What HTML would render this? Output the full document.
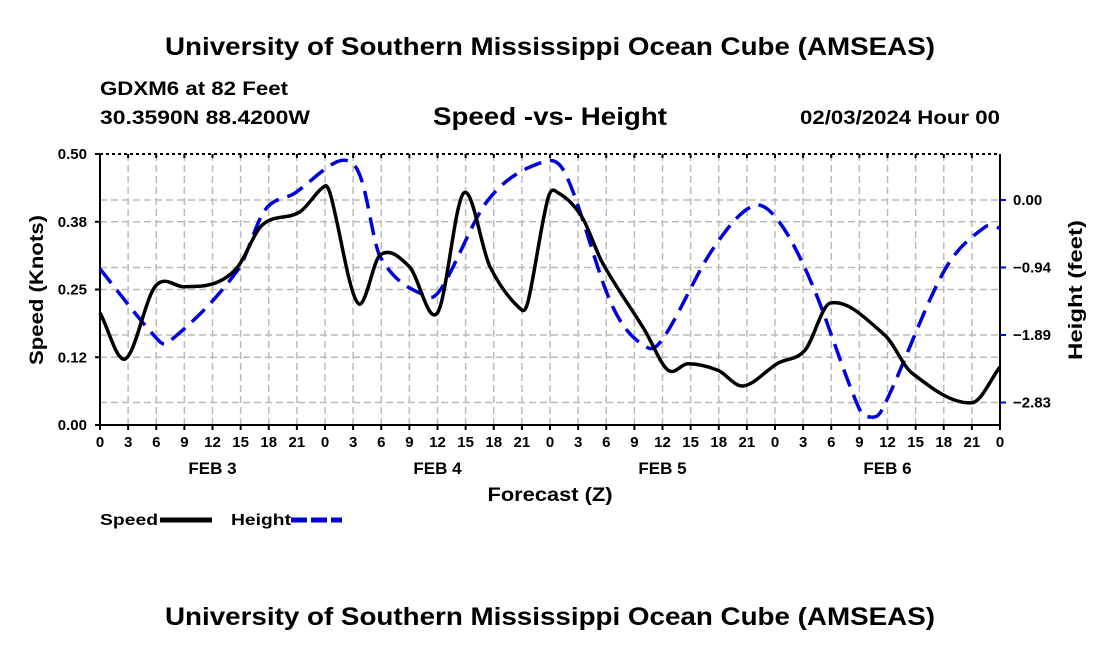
<!DOCTYPE html>
<html><head><meta charset="utf-8"><style>
body{margin:0;background:#fff;width:1100px;height:650px;overflow:hidden}
svg text{font-family:"Liberation Sans",sans-serif;font-weight:bold;fill:#000}
</style></head><body>
<svg id="chart" width="1100" height="650" xmlns="http://www.w3.org/2000/svg">
<text x="550" y="55" font-size="25" text-anchor="middle" textLength="770" lengthAdjust="spacingAndGlyphs">University of Southern Mississippi Ocean Cube (AMSEAS)</text>
<text x="100" y="95" font-size="19" textLength="188" lengthAdjust="spacingAndGlyphs">GDXM6 at 82 Feet</text>
<text x="100" y="124" font-size="19" textLength="210" lengthAdjust="spacingAndGlyphs">30.3590N  88.4200W</text>
<text x="550" y="125" font-size="25" text-anchor="middle" textLength="234" lengthAdjust="spacingAndGlyphs">Speed -vs- Height</text>
<text x="1000" y="124" font-size="19" text-anchor="end" textLength="200" lengthAdjust="spacingAndGlyphs">02/03/2024 Hour 00</text>
<g id="grid"></g><g id="axes"></g><g id="series"></g>
<text x="550" y="501" font-size="19" text-anchor="middle" textLength="125" lengthAdjust="spacingAndGlyphs">Forecast (Z)</text>
<text transform="translate(43,290) rotate(-90)" font-size="19" text-anchor="middle" textLength="150" lengthAdjust="spacingAndGlyphs">Speed (Knots)</text>
<text transform="translate(1082,290) rotate(-90)" font-size="19" text-anchor="middle" textLength="140" lengthAdjust="spacingAndGlyphs">Height (feet)</text>
<g>
<text x="100" y="525" font-size="16" textLength="58" lengthAdjust="spacingAndGlyphs">Speed</text>
<line x1="160" y1="520" x2="212" y2="520" stroke="#000" stroke-width="5"/>
<text x="231" y="525" font-size="16" textLength="60" lengthAdjust="spacingAndGlyphs">Height</text>
<line x1="291" y1="520" x2="342" y2="520" stroke="#0000dd" stroke-width="5" stroke-dasharray="16,4"/>
</g>
<text x="550" y="625" font-size="25" text-anchor="middle" textLength="770" lengthAdjust="spacingAndGlyphs">University of Southern Mississippi Ocean Cube (AMSEAS)</text>
</svg>
<script>
const speedHours=[0,2.7,5.9,9,12.3,14.7,17.3,21.3,24,24.6,27.5,29.9,33,36,38.8,41.6,45,45.7,47.8,48.9,51.4,53.6,58.1,60.6,62.7,65.9,68.6,72.3,75.2,77.9,83.7,86.6,93,96];
const speedValues=[0.207,0.122,0.256,0.255,0.262,0.292,0.369,0.393,0.441,0.424,0.225,0.314,0.292,0.207,0.428,0.292,0.212,0.231,0.419,0.428,0.384,0.299,0.175,0.101,0.113,0.101,0.072,0.114,0.138,0.225,0.166,0.096,0.041,0.107];
const heightHours=[0,5.9,7.2,14.7,17.6,20.8,25,26.9,28,29.9,35,36.5,41.4,47,49.6,54.7,58.5,60.3,65.3,69.6,72.3,75.9,80.9,82.1,83.4,90.1,94.4,96];
const heightValues=[-0.965,-1.916,-2.0,-0.979,-0.14,0.098,0.517,0.517,0.238,-0.797,-1.357,-1.217,0,0.52,0.378,-1.497,-2.07,-1.888,-0.7,-0.084,-0.28,-1.161,-2.895,-3.035,-2.937,-0.979,-0.378,-0.392];
const leftTicks=[0,0.125,0.25,0.375,0.5];
const leftTickLabels=["0.00","0.12","0.25","0.38","0.50"];
const rightTicks=[0,-0.944,-1.888,-2.832];
const rightTickLabels=["0.00","\u22120.94","\u22121.89","\u22122.83"];
const xTickLabels=["0","3","6","9","12","15","18","21","0","3","6","9","12","15","18","21","0","3","6","9","12","15","18","21","0","3","6","9","12","15","18","21","0"];
const dayLabels=["FEB 3","FEB 4","FEB 5","FEB 6"];

const X0=100,X1=1000,Y0=154,Y1=425;
const xs=h=>X0+h*(X1-X0)/96;
const ySpeed=v=>Y1-v*(Y1-Y0)/0.5;
const yHeight=v=>200-v*71.5;
const NS="http://www.w3.org/2000/svg";
function mk(parent,tag,attrs){const e=document.createElementNS(NS,tag);for(const k in attrs)e.setAttribute(k,attrs[k]);document.getElementById(parent).appendChild(e);return e;}
for(let i=1;i<32;i++){const l=mk('grid','line',{x1:xs(i*3),x2:xs(i*3),y1:Y0,y2:Y1,stroke:'#bbb','stroke-width':1.5,'stroke-dasharray':'7,4'});

}
const hy=[...leftTicks.slice(1,4).map(ySpeed),...rightTicks.map(yHeight)];
hy.forEach(y=>{const l=mk('grid','line',{x1:X0,x2:X1,y1:y,y2:y,stroke:'#bbb','stroke-width':1.5,'stroke-dasharray':'7,4'});

});
let a=mk('axes','line',{x1:X0,x2:X0,y1:Y0,y2:Y1,stroke:'#000','stroke-width':2});


a=mk('axes','line',{x1:X1,x2:X1,y1:Y0,y2:Y1,stroke:'#000','stroke-width':2});


a=mk('axes','line',{x1:X0,x2:X1,y1:Y1,y2:Y1,stroke:'#000','stroke-width':2});


a=mk('axes','line',{x1:X0,x2:X1,y1:Y0,y2:Y0,stroke:'#000','stroke-width':2,'stroke-dasharray':'3,3'});


leftTicks.forEach((v,i)=>{const y=ySpeed(v);
const t=mk('axes','line',{x1:X0-5,x2:X0,y1:y,y2:y,stroke:'#000','stroke-width':2});


const tx=mk('axes','text',{x:X0-13,y:y+5,'font-size':15,'text-anchor':'end'});tx.textContent=leftTickLabels[i];

});
rightTicks.forEach((v,i)=>{const y=yHeight(v);
const t=mk('axes','line',{x1:X1,x2:X1+6,y1:y,y2:y,stroke:'#0000dd','stroke-width':2});


const tx=mk('axes','text',{x:X1+13,y:y+5,'font-size':15});tx.textContent=rightTickLabels[i];

});
xTickLabels.forEach((s,i)=>{const x=xs(i*3);
const t=mk('axes','line',{x1:x,x2:x,y1:Y1,y2:Y1+5,stroke:'#000','stroke-width':2});


const tt=mk('axes','line',{x1:x,x2:x,y1:Y0,y2:Y0+4,stroke:'#000','stroke-width':2});


const tx=mk('axes','text',{x:x,y:Y1+22,'font-size':15,'text-anchor':'middle'});tx.textContent=s;

});
dayLabels.forEach((s,i)=>{const tx=mk('axes','text',{x:xs(12+24*i),y:474,'font-size':17,'text-anchor':'middle'});tx.textContent=s;

});
function path(hs,vs,yf){const p=hs.map((h,i)=>[xs(h),yf(vs[i])]);let d='M'+p[0][0]+','+p[0][1];
for(let i=0;i<p.length-1;i++){const p0=p[Math.max(0,i-1)],p1=p[i],p2=p[i+1],p3=p[Math.min(p.length-1,i+2)];
const dx=p2[0]-p1[0];
const k1=dx/(p2[0]-p0[0]||1)/3,k2=dx/(p3[0]-p1[0]||1)/3;
d+=` C${p1[0]+(p2[0]-p0[0])*k1},${p1[1]+(p2[1]-p0[1])*k1} ${p2[0]-(p3[0]-p1[0])*k2},${p2[1]-(p3[1]-p1[1])*k2} ${p2[0]},${p2[1]}`;}return d;}
const hp=mk('series','path',{d:path(heightHours,heightValues,yHeight),fill:'none',stroke:'#0000dd','stroke-width':3.5,'stroke-dasharray':'18,9'});


const sp=mk('series','path',{d:path(speedHours,speedValues,ySpeed),fill:'none',stroke:'#000','stroke-width':3.5,'stroke-linejoin':'round'});


</script>
</body></html>
